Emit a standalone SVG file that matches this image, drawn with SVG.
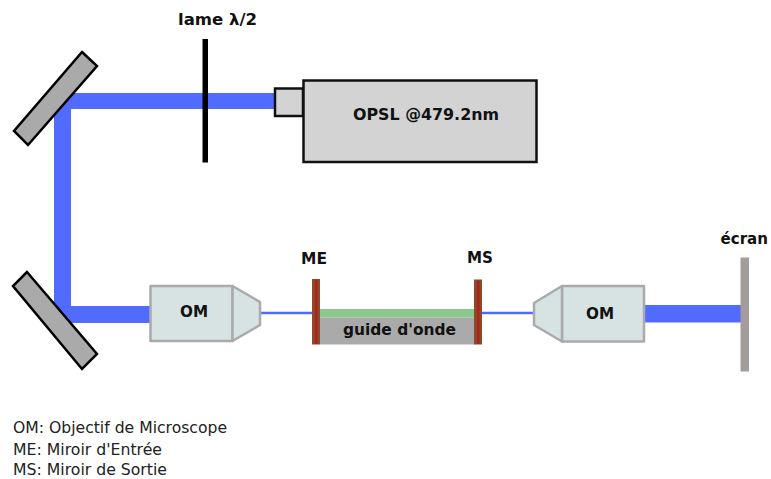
<svg xmlns="http://www.w3.org/2000/svg" width="771" height="479" viewBox="0 0 771 479">
<style>
.b{font-family:"DejaVu Sans",Verdana,sans-serif;font-weight:bold;font-size:16.5px;fill:#111}
.l{font-family:"DejaVu Sans",Verdana,sans-serif;font-size:15.5px;fill:#222}
.beam{fill:#526bff;stroke:none}
.thin{stroke:#526bff;stroke-width:2.5;fill:none}
.mirror{fill:#aaaaaa;stroke:#000;stroke-width:2.5;stroke-linejoin:miter}
.om{fill:#d7e3e3;stroke:#aaaaaa;stroke-width:2.5;stroke-linejoin:round}
.laser{fill:#d3d3d3;stroke:#111;stroke-width:2.5}
.me{fill:#8b4a2a}
.mec{fill:#b02020}
</style>
<rect width="771" height="479" fill="#fff"/>
<g id="connectors">
<path class="beam" d="M54 93H275V109H71V306H150V323H54Z"/>
<path class="thin" d="M260 313L313 313"/>
<path class="thin" d="M482 313L534 313"/>
<rect class="beam" x="645" y="305" width="96" height="17.500"/>
</g>
<g id="mirror-top"><polygon class="mirror" points="82,52 97,66 28,145 14,131"/></g>
<g id="mirror-bottom"><polygon class="mirror" points="27,272 13,286 82,369 97,354"/></g>
<g id="lame">
<rect x="202.500" y="39" width="5.500" height="123.500" fill="#000"/>
<text class="b" x="178" y="25" textLength="79" lengthAdjust="spacingAndGlyphs">lame λ/2</text>
</g>
<g id="laser">
<rect class="laser" x="275" y="88.500" width="28" height="27.500"/>
<rect class="laser" x="303.500" y="80.500" width="233" height="81.500"/>
<text class="b" x="353" y="120" textLength="146" lengthAdjust="spacingAndGlyphs">OPSL @479.2nm</text>
</g>
<g id="om-left">
<rect class="om" x="150.500" y="286" width="82" height="55"/>
<polygon class="om" points="232.500,286 260,302 260,325 232.500,341"/>
<text class="b" x="180" y="317" textLength="28" lengthAdjust="spacingAndGlyphs">OM</text>
</g>
<g id="guide">
<rect x="320" y="309" width="155" height="8.500" fill="#8cc88c"/>
<rect x="320" y="317.500" width="155" height="27" fill="#aaaaaa"/>
<text class="b" x="343" y="335" textLength="113" lengthAdjust="spacingAndGlyphs">guide d'onde</text>
</g>
<g id="me">
<rect class="me" x="312" y="279" width="8" height="65.500"/>
<rect class="mec" x="315" y="280" width="2.500" height="64"/>
<text class="b" x="301" y="264" textLength="26" lengthAdjust="spacingAndGlyphs">ME</text>
</g>
<g id="ms">
<rect class="me" x="474" y="279.500" width="8" height="65"/>
<rect class="mec" x="477" y="281" width="2.500" height="63"/>
<text class="b" x="467" y="263" textLength="26" lengthAdjust="spacingAndGlyphs">MS</text>
</g>
<g id="om-right">
<rect class="om" x="562" y="286" width="82" height="55.500"/>
<polygon class="om" points="562,286 534,303 534,325 562,341.500"/>
<text class="b" x="586" y="319" textLength="28" lengthAdjust="spacingAndGlyphs">OM</text>
</g>
<g id="ecran">
<rect x="740.500" y="257.500" width="8.500" height="114" fill="#a39c9a"/>
<text class="b" x="720.500" y="244" textLength="47.500" lengthAdjust="spacingAndGlyphs">écran</text>
</g>
<g id="legend">
<text class="l" x="13" y="433" textLength="214" lengthAdjust="spacingAndGlyphs">OM: Objectif de Microscope</text>
<text class="l" x="13" y="455" textLength="149" lengthAdjust="spacingAndGlyphs">ME: Miroir d'Entrée</text>
<text class="l" x="13" y="475" textLength="154" lengthAdjust="spacingAndGlyphs">MS: Miroir de Sortie</text>
</g>
</svg>
